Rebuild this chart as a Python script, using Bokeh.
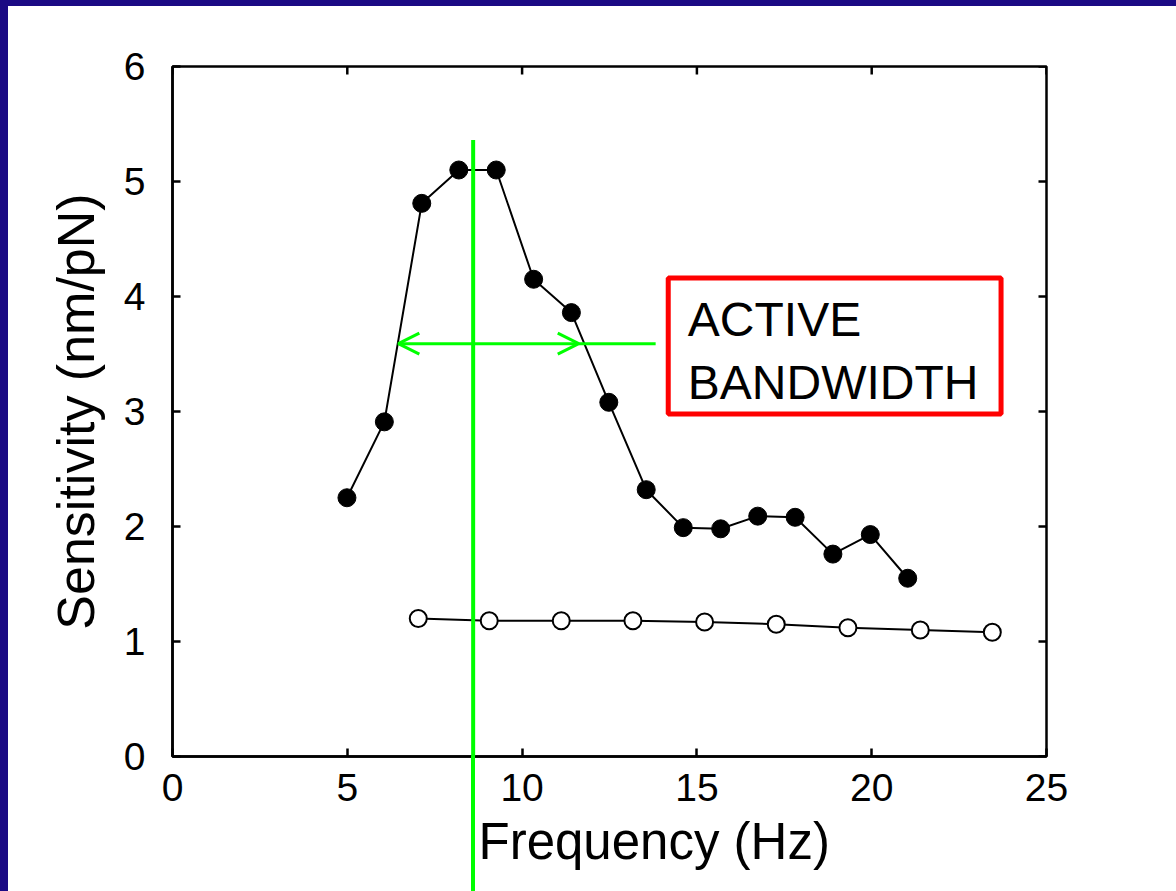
from bokeh.plotting import figure
from bokeh.models import (FixedTicker, Arrow, OpenHead, BoxAnnotation,
                          Label, Title, Spacer, Range1d, ColumnDataSource)
from bokeh.layouts import row, column
from bokeh.embed import file_html
from bokeh.resources import INLINE

# ---------------- data ----------------
freq_active = [4.99, 6.06, 7.13, 8.19, 9.26, 10.33, 11.41, 12.48, 13.55, 14.61,
               15.68, 16.74, 17.81, 18.89, 19.96, 21.03]
sens_active = [2.25, 2.91, 4.81, 5.10, 5.10, 4.15, 3.86, 3.08, 2.32, 1.99,
               1.98, 2.09, 2.08, 1.76, 1.93, 1.55]
freq_passive = [7.03, 9.06, 11.12, 13.17, 15.22, 17.27, 19.32, 21.39, 23.45]
sens_passive = [1.20, 1.18, 1.18, 1.18, 1.17, 1.15, 1.12, 1.10, 1.08]

x_ticks = [0, 5, 10, 15, 20, 25]
y_ticks = [0, 1, 2, 3, 4, 5, 6]

peak_freq = 8.6
band_low, band_high, band_level = 6.46, 11.62, 3.59
band_tail_end = 13.82
box_text = "ACTIVE\nBANDWIDTH"

# ---------------- style / layout ----------------
NAVY = "#1b0a84"
GREEN = "#00ff00"
FONT = "Liberation Sans"
X0, X1, Y0, Y1 = 0, 25, 0, 6
FIG_W, FIG_H = 1168, 885
MB_L, MB_R, MB_T, MB_B = 164, 130, 60, 135
TICK_LEN = 8
frame_w = FIG_W - MB_L - MB_R
frame_h = FIG_H - MB_T - MB_B

p = figure(width=FIG_W, height=FIG_H, x_range=Range1d(X0, X1), y_range=Range1d(Y0, Y1),
           output_backend="svg", toolbar_location=None,
           min_border_left=MB_L, min_border_right=MB_R,
           min_border_top=MB_T, min_border_bottom=MB_B)
p.xgrid.visible = False
p.ygrid.visible = False
p.outline_line_color = "black"
p.outline_line_width = 2.5
p.background_fill_color = "white"
p.border_fill_color = "white"

for ax, ticks in ((p.xaxis[0], x_ticks), (p.yaxis[0], y_ticks)):
    ax.ticker = FixedTicker(ticks=ticks)
    ax.major_tick_in = TICK_LEN
    ax.major_tick_out = 0
    ax.minor_tick_in = 0
    ax.minor_tick_out = 0
    ax.axis_line_width = 2.5
    ax.axis_line_color = "black"
    ax.major_tick_line_width = 2.5
    ax.major_tick_line_color = "black"
    ax.major_label_text_font = FONT
    ax.major_label_text_color = "black"
    ax.major_label_text_font_size = "39px"

p.xaxis[0].major_label_standoff = 17
p.yaxis[0].major_label_standoff = 27
p.yaxis[0].axis_label = "Sensitivity (nm/pN)"
p.yaxis[0].axis_label_text_font = FONT
p.yaxis[0].axis_label_text_font_size = "52px"
p.yaxis[0].axis_label_text_font_style = "normal"
p.yaxis[0].axis_label_text_color = "black"
p.yaxis[0].axis_label_standoff = 16

p.add_layout(Title(text="Frequency (Hz)", align="left", offset=306,
                   text_font=FONT, text_font_size="51px", text_font_style="normal",
                   text_color="black", standoff=14), "below")

# mirrored inward ticks on top and right edges
dy = TICK_LEN * (Y1 - Y0) / frame_h
dx = TICK_LEN * (X1 - X0) / frame_w
p.segment(x0=x_ticks, y0=[Y1] * len(x_ticks), x1=x_ticks, y1=[Y1 - dy] * len(x_ticks),
          line_color="black", line_width=2.5)
p.segment(x0=[X1] * len(y_ticks), y0=y_ticks, x1=[X1 - dx] * len(y_ticks), y1=y_ticks,
          line_color="black", line_width=2.5)

# series
src_a = ColumnDataSource(dict(x=freq_active, y=sens_active))
src_p = ColumnDataSource(dict(x=freq_passive, y=sens_passive))
p.line("x", "y", source=src_a, line_color="black", line_width=2)
p.scatter("x", "y", source=src_a, size=18, fill_color="black", line_color="black")
p.line("x", "y", source=src_p, line_color="black", line_width=2)
p.scatter("x", "y", source=src_p, size=17, fill_color="white", line_color="black",
          line_width=2)

# annotation box
p.add_layout(BoxAnnotation(left=14.18, right=23.70, top=4.161, bottom=2.978,
                           fill_alpha=0, line_color="#ff0000", line_width=5,
                           line_alpha=1))
p.add_layout(Label(x=14.74, y=4.03, text=box_text, text_font=FONT,
                   text_font_size="48px", text_baseline="top", text_align="left",
                   text_line_height=1.19, text_color="black"))

# green markers
p.add_layout(Arrow(end=None, x_start=peak_freq, y_start=5.36, x_end=peak_freq,
                   y_end=Y0, line_color=GREEN, line_width=4, level="overlay"))
p.add_layout(Arrow(start=OpenHead(size=21, line_color=GREEN, line_width=3),
                   end=OpenHead(size=21, line_color=GREEN, line_width=3),
                   x_start=band_low, y_start=band_level, x_end=band_high,
                   y_end=band_level, line_color=GREEN, line_width=3, level="overlay"))
p.add_layout(Arrow(end=None, x_start=band_high, y_start=band_level,
                   x_end=band_tail_end, y_end=band_level, line_color=GREEN,
                   line_width=3, level="overlay"))

# continuation of the green peak line below the plot frame (page overlay)
OFF_X, OFF_Y = 8, 6
line_px = OFF_X + MB_L + (peak_freq - X0) / (X1 - X0) * frame_w
frame_bottom_px = OFF_Y + MB_T + frame_h
ext = Spacer(width=4, height=FIG_H + OFF_Y - frame_bottom_px,
             styles={"position": "absolute", "left": f"{line_px - 2:.1f}px",
                     "top": f"{frame_bottom_px:.1f}px", "background-color": GREEN,
                     "z-index": "10"})

top_bar = Spacer(width=FIG_W + OFF_X, height=OFF_Y, styles={"background-color": NAVY})
left_bar = Spacer(width=OFF_X, height=FIG_H, styles={"background-color": NAVY})
layout = column(top_bar, row(left_bar, p), ext)

open("out.html", "w").write(file_html(layout, INLINE))
